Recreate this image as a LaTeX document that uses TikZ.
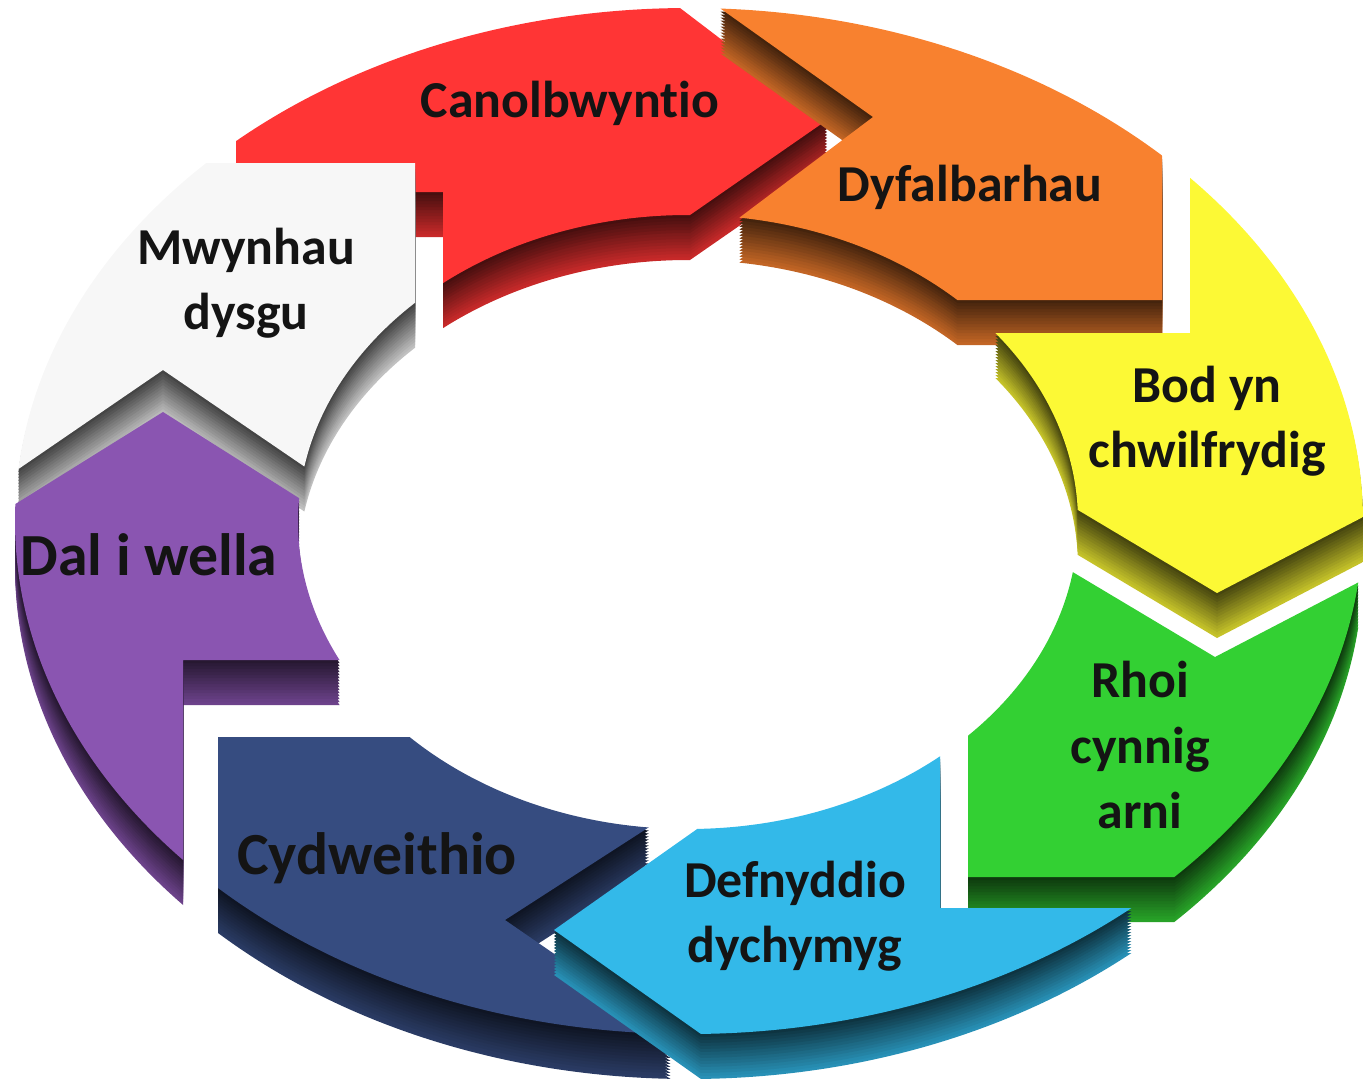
\documentclass[tikz,border=0pt]{standalone}
\usepackage{fontspec}
\setmainfont{Carlito}[Ligatures=NoCommon]
\usepackage{tikz}
\usetikzlibrary{calc}

% lliwiau'r cylch
\definecolor{segred}{HTML}{FF3535}
\definecolor{segorange}{HTML}{F8812F}
\definecolor{segyellow}{HTML}{FCF935}
\definecolor{seggreen}{HTML}{33D033}
\definecolor{segcyan}{HTML}{33B9E9}
\definecolor{segnavy}{HTML}{364C80}
\definecolor{segpurple}{HTML}{8A55B1}
\definecolor{segwhite}{HTML}{F7F7F7}

% one piece of the ring: #1 colour, #2 cut outline
\newcommand{\ringsegment}[2]{%
  \foreach \k in {45,42,...,3}{
    \pgfmathtruncatemacro{\sidemix}{25+1.2*\k}
    \begin{scope}[shift={(0,\k)}]
      \clip #2;
      \fill[#1!\sidemix!black, even odd rule]
        (689,521) ellipse [x radius=674, y radius=513]
        (688,522) ellipse [x radius=390, y radius=307];
    \end{scope}
  }
  \begin{scope}
    \clip #2;
    \fill[#1, even odd rule]
      (689,521) ellipse [x radius=674, y radius=513]
      (688,522) ellipse [x radius=390, y radius=307];
  \end{scope}}

\tikzset{
  seglabel/.style={align=center, text=black!92,
    font=\bfseries\fontsize{29.5}{37}\selectfont},
  biglabel/.style={seglabel, font=\bfseries\fontsize{34}{40}\selectfont}
}

\begin{document}
\begin{tikzpicture}[x=0.2mm, y=-0.2mm]
    \useasboundingbox (0,0) rectangle (1363,1088);

    % darnau'r cylch, o'r cefn i'r blaen
    \ringsegment{segred}{(236,-100) -- (236,192) -- (443,192) -- (443,400) -- (553,400) -- (553,310) -- (827,120) -- (533,-104) -- cycle}
    \ringsegment{segorange}{(648,-43) -- (873,117) -- (654,282) -- (654,300) -- (1162,300) -- (1162,-50) -- cycle}
    \ringsegment{segwhite}{(415,163) -- (415,512) -- (371,512) -- (163,370) -- (-56,520) -- (-56,163) -- cycle}
    \ringsegment{segyellow}{(1190,-50) -- (1190,333) -- (950,333) -- (950,473) -- (1016,473) -- (1217,593) -- (1509,441) -- (1509,-50) -- cycle}
    \ringsegment{segpurple}{(183,1200) -- (183,660) -- (500,660) -- (500,588) -- (441,588) -- (163,412) -- (-129,594) -- (-129,1200) -- cycle}
    \ringsegment{seggreen}{(1215,657) -- (1014,537) -- (968,537) -- (968,877) -- (1450,877) -- (1450,543) -- (1434,543) -- cycle}
    \ringsegment{segnavy}{(218,737) -- (218,1200) -- (868,1170) -- (505,920) -- (733,773) -- (733,737) -- cycle}
    \ringsegment{segcyan}{(940,600) -- (940,908) -- (1450,908) -- (1450,1200) -- (831,1126) -- (554,930) -- (846,724) -- cycle}

    % testun
    \node[seglabel] (canol) at (570,103) {Canolbwynt\kern0pt io};
    \node[seglabel] (dyfal) at (970,187) {Dyfalbarhau};
    \node[seglabel] (chwilf) at (1207,421) {Bod yn\\chwilfrydig};
    \node[seglabel] (cynnig) at (1140,745) {Rhoi\\cynnig\\arni};
    \node[seglabel] (dychym) at (795,916) {Defnyddio\\dychymyg};
    \node[biglabel] (cydweith) at (377,858) {Cydweithio};
    \node[biglabel] (gwella) at (149,555) {Dal i wella};
    \node[seglabel] (mwynhau) at (246,283) {Mwynhau\\dysgu};
\end{tikzpicture}
\end{document}
